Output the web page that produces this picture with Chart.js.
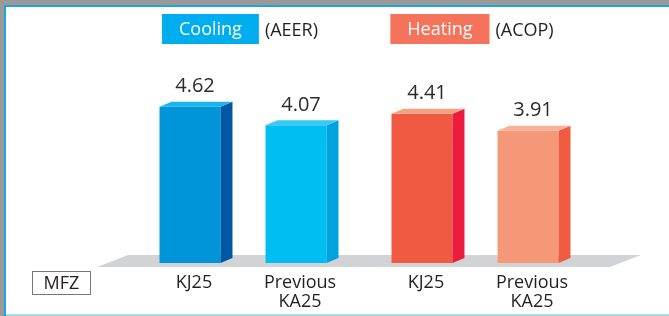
<!DOCTYPE html>
<html>
<head>
<meta charset="utf-8">
<script src="https://cdn.jsdelivr.net/npm/chart.js@4.4.1/dist/chart.umd.min.js"></script>
<style>
  html, body { margin: 0; padding: 0; background: #fff; }
  #wrap { position: relative; width: 669px; height: 316px; overflow: hidden; }
  #chart { position: absolute; left: 0; top: 0; }
  .edge { position: absolute; }
</style>
</head>
<body>
<div id="wrap">
  <canvas id="chart" width="669" height="316"></canvas>
  <div class="edge" style="left:0;top:0;width:669px;height:5px;background:#9c9996"></div>
  <div class="edge" style="left:0;top:0;width:4px;height:316px;background:#9c9996"></div>
  <div class="edge" style="left:4px;top:5px;width:665px;height:2px;background:#1aa7dc"></div>
  <div class="edge" style="left:4px;top:5px;width:2px;height:311px;background:#1aa7dc"></div>
  <div class="edge" style="left:6px;top:314px;width:663px;height:2px;background:#a6dde9"></div>
</div>
<script>
// Data
const groups = ['Cooling', 'Heating'];
const groupUnits = ['(AEER)', '(ACOP)'];
const models = ['KJ25', 'Previous KA25'];
const kj25 = [4.62, 4.41];
const previousKa25 = [4.07, 3.91];
const seriesName = 'MFZ';

// Colours
const legendColors = ['#00aeef', '#f4735a'];
const frontColors = [['#0094d8', '#f05a42'], ['#00bdf2', '#f59779']];
const sideColors = [['#0057a4', '#ed1c3d'], ['#00a2df', '#f15b40']];
const topColors = [['#1bb5eb', '#f7a184'], ['#38c8f4', '#f9b298']];
const textColor = '#231f20';
const FONT = '"Open Sans", "Noto Sans", sans-serif';

const DX = 12, DY = 5; // bar depth

const threeD = {
  id: 'threeD',
  beforeDatasetsDraw(chart) {
    const ctx = chart.ctx;
    const area = chart.chartArea;
    const base = chart.scales.y.getPixelForValue(0);
    // floor
    ctx.save();
    ctx.fillStyle = '#d1d3d4';
    ctx.beginPath();
    ctx.moveTo(area.left - 30, base + 4);
    ctx.lineTo(area.right + 19, base + 4);
    ctx.lineTo(area.right + 50, base - 8);
    ctx.lineTo(area.left + 1, base - 8);
    ctx.closePath();
    ctx.fill();
    ctx.restore();
  },
  afterDatasetsDraw(chart) {
    const ctx = chart.ctx;
    ctx.save();
    chart.data.datasets.forEach((ds, di) => {
      chart.getDatasetMeta(di).data.forEach((bar, i) => {
        const half = bar.width / 2;
        const l = bar.x - half, r = bar.x + half;
        // side
        ctx.fillStyle = sideColors[di][i];
        ctx.beginPath();
        ctx.moveTo(r, bar.y);
        ctx.lineTo(r + DX, bar.y - DY);
        ctx.lineTo(r + DX, bar.base - DY);
        ctx.lineTo(r, bar.base);
        ctx.closePath();
        ctx.fill();
        // top
        ctx.fillStyle = topColors[di][i];
        ctx.beginPath();
        ctx.moveTo(l, bar.y);
        ctx.lineTo(r, bar.y);
        ctx.lineTo(r + DX, bar.y - DY);
        ctx.lineTo(l + DX, bar.y - DY);
        ctx.closePath();
        ctx.fill();
        // value
        ctx.fillStyle = '#2b2b2b';
        ctx.font = '20px ' + FONT;
        ctx.textAlign = 'center';
        ctx.textBaseline = 'middle';
        ctx.fillText(ds.data[i].toFixed(2), bar.x + 5, bar.y - 20);
        // model name
        ctx.fillStyle = textColor;
        ctx.font = '18px ' + FONT;
        ds.label.split(' ').forEach((line, li) => {
          ctx.fillText(line, bar.x + 4, bar.base + 20 + li * 19);
        });
      });
    });
    ctx.restore();
  },
  afterDraw(chart) {
    const ctx = chart.ctx;
    const xs = chart.scales.x;
    ctx.save();
    ctx.textBaseline = 'middle';
    ctx.font = '18px ' + FONT;
    groups.forEach((g, i) => {
      const cx = xs.getPixelForValue(i);
      const tw = ctx.measureText(g).width;
      const bw = tw + 34;
      const uw = ctx.measureText(groupUnits[i]).width;
      const x0 = cx - (bw + 6 + uw) / 2 - 3;
      ctx.fillStyle = legendColors[i];
      ctx.fillRect(x0, 14, bw, 30);
      ctx.fillStyle = '#fff';
      ctx.textAlign = 'center';
      ctx.fillText(g, x0 + bw / 2, 30);
      ctx.fillStyle = textColor;
      ctx.textAlign = 'left';
      ctx.fillText(groupUnits[i], x0 + bw + 6, 31);
    });
    // series box
    ctx.strokeStyle = '#777';
    ctx.lineWidth = 1;
    ctx.strokeRect(32.5, 271.5, 58, 23);
    ctx.fillStyle = textColor;
    ctx.textAlign = 'center';
    ctx.fillText(seriesName, 61.5, 284);
    ctx.restore();
  }
};

new Chart(document.getElementById('chart'), {
  type: 'bar',
  data: {
    labels: groups,
    datasets: [
      { label: models[0], data: kj25, backgroundColor: frontColors[0] },
      { label: models[1], data: previousKa25, backgroundColor: frontColors[1] }
    ]
  },
  options: {
    responsive: false,
    animation: false,
    devicePixelRatio: 1,
    categoryPercentage: 0.914,
    barPercentage: 0.575,
    layout: { padding: { left: 127, right: 78, top: 60, bottom: 53 } },
    scales: {
      x: { display: false },
      y: { display: false, min: 0, max: 6 }
    },
    plugins: {
      legend: { display: false },
      tooltip: { enabled: false }
    }
  },
  plugins: [threeD]
});
</script>
</body>
</html>
